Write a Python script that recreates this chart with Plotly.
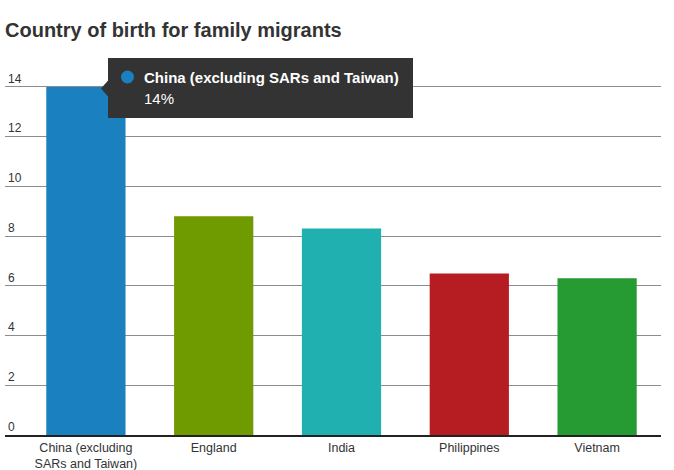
import plotly.graph_objects as go

# data
countries = ["China (excluding<br>SARs and Taiwan)", "England", "India", "Philippines", "Vietnam"]
shares = [14, 8.8, 8.3, 6.5, 6.3]
bar_colours = ["#1a80c0", "#6f9a00", "#20b0b0", "#b61d22", "#269a33"]
y_ticks = [0, 2, 4, 6, 8, 10, 12, 14]

tip_name = "China (excluding SARs and Taiwan)"
tip_value = "14%"

W, H = 674, 470
L, R, T, B = 5, 13, 67, 35
FONT = "Arial, Liberation Sans, sans-serif"


def px_x(p):
    return (p - L) / (W - L - R)


def px_y(p):
    return (H - B - p) / (H - T - B)


fig = go.Figure()
fig.add_trace(go.Bar(
    x=list(range(len(countries))),
    y=shares,
    marker=dict(color=bar_colours, line=dict(width=0)),
    width=0.62,
    hoverinfo="none",
))

# tooltip box (static copy of the hover state)
fig.add_shape(type="rect", xref="paper", yref="paper",
              x0=px_x(108), x1=px_x(413), y0=px_y(118), y1=px_y(58),
              fillcolor="#333333", line=dict(width=0), layer="above")
fig.add_shape(type="path", xref="paper", yref="paper",
              path="M %f %f L %f %f L %f %f Z" % (px_x(108.5), px_y(80), px_x(101), px_y(88.5), px_x(108.5), px_y(97)),
              fillcolor="#333333", line=dict(width=0), layer="above")
fig.add_shape(type="circle", xref="paper", yref="paper",
              x0=px_x(121), x1=px_x(134), y0=px_y(83.5), y1=px_y(70.5),
              fillcolor=bar_colours[0], line=dict(width=0), layer="above")
fig.add_annotation(xref="paper", yref="paper", x=px_x(142), y=px_y(77),
                   xanchor="left", yanchor="middle", showarrow=False,
                   text="<b>" + tip_name + "</b>",
                   font=dict(family=FONT, size=15, color="white"))
fig.add_annotation(xref="paper", yref="paper", x=px_x(142), y=px_y(98),
                   xanchor="left", yanchor="middle", showarrow=False,
                   text=tip_value,
                   font=dict(family=FONT, size=15, color="white"))

fig.update_layout(
    width=W, height=H,
    margin=dict(l=L, r=R, t=T, b=B, autoexpand=False),
    paper_bgcolor="white", plot_bgcolor="white",
    showlegend=False,
    title=dict(text="<b>Country of birth for family migrants</b>",
               x=0, xref="paper", xanchor="left", y=1 - 30 / H, yanchor="middle",
               font=dict(family=FONT, size=20, color="#333333")),
    font=dict(family=FONT, size=12, color="#333333"),
)
fig.update_xaxes(
    tickmode="array", tickvals=list(range(len(countries))), ticktext=countries,
    range=[-0.633, 4.5], showgrid=False, zeroline=False,
    showline=True, linecolor="#222222", linewidth=2,
    ticks="", ticklabelstandoff=0, automargin=False,
    tickfont=dict(family=FONT, size=12.5, color="#333333"),
    fixedrange=True,
)
fig.update_yaxes(
    range=[0, 14.8], tickvals=y_ticks, showgrid=True, gridcolor="#8c8c8c", gridwidth=1,
    zeroline=False, ticklabelposition="inside top", ticks="", automargin=False,
    tickfont=dict(family=FONT, size=12, color="#333333"),
    fixedrange=True,
)

# drop the browser's default 8px page margin so the figure sits at the window corner
fig.write_html("out.html", config={"displayModeBar": False},
               post_script="document.body.style.margin='0';")
